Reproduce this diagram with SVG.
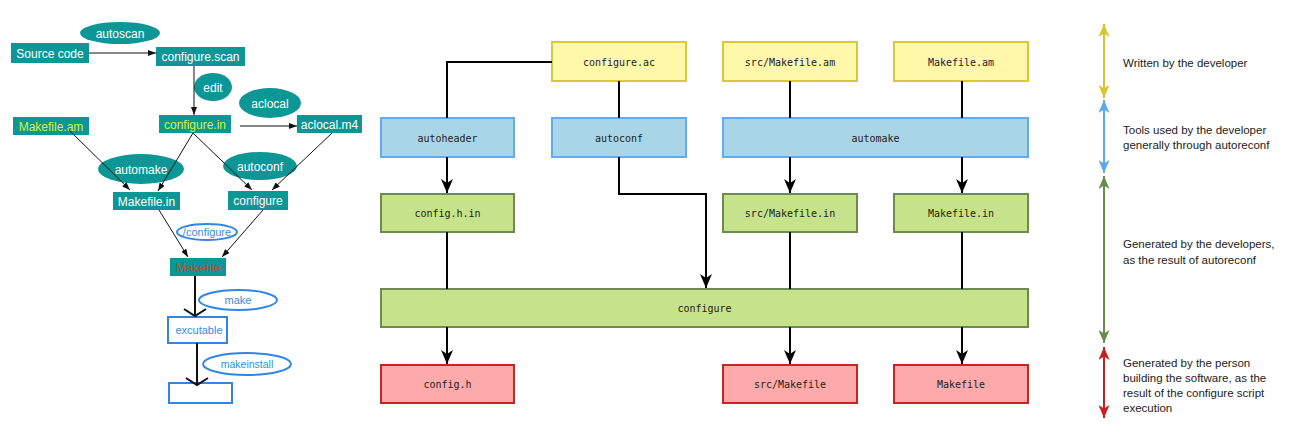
<svg xmlns="http://www.w3.org/2000/svg" width="1293" height="429" viewBox="0 0 1293 429">
<style>
.tb{fill:#0d9696;stroke:none}
.te{fill:#0d9696;stroke:none}
.tw{font-family:"Liberation Sans",Arial,sans-serif;font-size:12px;fill:#ffffff;text-anchor:middle}
.ty{font-family:"Liberation Sans",Arial,sans-serif;font-size:12px;fill:#d4f53c;text-anchor:middle}
.tr{font-family:"Liberation Sans",Arial,sans-serif;font-size:12px;fill:#b5532c;text-anchor:middle}
.bo{fill:#ffffff;stroke:#2f86e6;stroke-width:2}
.tbl{font-family:"Liberation Sans",Arial,sans-serif;font-size:11px;fill:#3a8ae0;text-anchor:middle}
.thin{stroke:#111;stroke-width:1;fill:none}
.thick{stroke:#111;stroke-width:2;fill:none}
.c{stroke:#000;stroke-width:2;fill:none}
.y{fill:#fff8a8;stroke:#d8c93c;stroke-width:2}
.b{fill:#a9d6e6;stroke:#62aaf2;stroke-width:2}
.g{fill:#c6e28a;stroke:#6d8b4f;stroke-width:2}
.r{fill:#ffaaaa;stroke:#cc2222;stroke-width:2}
.m{font-family:"DejaVu Sans Mono",monospace;font-size:10px;fill:#222;text-anchor:middle}
.l{font-family:"Liberation Sans",Arial,sans-serif;font-size:11.5px;fill:#222}
</style>
<defs>
<marker id="aS" markerUnits="userSpaceOnUse" viewBox="0 0 8 6" refX="8" refY="3" markerWidth="8" markerHeight="6" orient="auto"><path d="M0,0 L8,3 L0,6 z" fill="#111"/></marker>
<marker id="aM" markerUnits="userSpaceOnUse" viewBox="0 0 14 12" refX="14" refY="6" markerWidth="14" markerHeight="12" orient="auto"><path d="M0,0 L14,6 L0,12 L4,6 z" fill="#000"/></marker>
<marker id="aV" markerUnits="userSpaceOnUse" viewBox="0 0 10 26" refX="8" refY="13" markerWidth="10" markerHeight="26" orient="auto"><path d="M1,2 L8,13 L1,24" fill="none" stroke="#111" stroke-width="2"/></marker>
<marker id="lY" markerUnits="userSpaceOnUse" viewBox="0 0 13 11" refX="13" refY="5.5" markerWidth="13" markerHeight="11" orient="auto-start-reverse"><path d="M0,0 L13,5.5 L0,11 L3.5,5.5 z" fill="#d6c62e"/></marker>
<marker id="lB" markerUnits="userSpaceOnUse" viewBox="0 0 13 11" refX="13" refY="5.5" markerWidth="13" markerHeight="11" orient="auto-start-reverse"><path d="M0,0 L13,5.5 L0,11 L3.5,5.5 z" fill="#5aa8f2"/></marker>
<marker id="lG" markerUnits="userSpaceOnUse" viewBox="0 0 13 11" refX="13" refY="5.5" markerWidth="13" markerHeight="11" orient="auto-start-reverse"><path d="M0,0 L13,5.5 L0,11 L3.5,5.5 z" fill="#6a8a4e"/></marker>
<marker id="lR" markerUnits="userSpaceOnUse" viewBox="0 0 13 11" refX="13" refY="5.5" markerWidth="13" markerHeight="11" orient="auto-start-reverse"><path d="M0,0 L13,5.5 L0,11 L3.5,5.5 z" fill="#c82020"/></marker>
</defs>
<rect width="1293" height="429" fill="#ffffff"/>

<!-- Left diagram nodes -->
<g id="l-autoscan"><ellipse class="te" cx="120" cy="33" rx="40" ry="11"/><text class="tw" x="120" y="37.5">autoscan</text></g>
<g id="l-source"><rect class="tb" x="11" y="43" width="78" height="20"/><text class="tw" x="50" y="57.5">Source code</text></g>
<g id="l-confscan"><rect class="tb" x="156" y="47" width="89" height="19"/><text class="tw" x="200.5" y="61">configure.scan</text></g>
<g id="l-edit"><ellipse class="te" cx="213" cy="87" rx="19" ry="14"/><text class="tw" x="213" y="91.5">edit</text></g>
<g id="l-aclocal"><ellipse class="te" cx="270" cy="103" rx="31" ry="15"/><text class="tw" x="270" y="107.5">aclocal</text></g>
<g id="l-confin"><rect class="tb" x="159" y="115" width="72" height="18"/><text class="ty" x="195" y="128.5">configure.in</text></g>
<g id="l-aclocalm4"><rect class="tb" x="297" y="115" width="65" height="18"/><text class="tw" x="329.5" y="128.5">aclocal.m4</text></g>
<g id="l-makeam"><rect class="tb" x="13" y="117" width="76" height="18"/><text class="ty" x="51" y="130.5">Makefile.am</text></g>
<g id="l-automake"><ellipse class="te" cx="141" cy="169" rx="43" ry="15"/><text class="tw" x="141" y="173.5">automake</text></g>
<g id="l-autoconf"><ellipse class="te" cx="260" cy="166" rx="37" ry="14"/><text class="tw" x="260" y="170.5">autoconf</text></g>
<g id="l-makein"><rect class="tb" x="113" y="192" width="67" height="18"/><text class="tw" x="146.5" y="205.5">Makefile.in</text></g>
<g id="l-configure"><rect class="tb" x="228" y="191" width="60" height="19"/><text class="tw" x="258" y="205">configure</text></g>
<g id="l-dotconf"><ellipse class="bo" cx="207" cy="232" rx="30" ry="8"/><text class="tbl" x="207" y="236">/configure</text></g>
<g id="l-makefile"><rect class="tb" x="170" y="258" width="56" height="18"/><text class="tr" x="198" y="271.5">Makefile</text></g>
<g id="l-make"><ellipse class="bo" cx="238" cy="300" rx="39" ry="10"/><text class="tbl" x="238" y="304">make</text></g>
<g id="l-exec"><rect class="bo" x="168" y="317" width="59" height="26"/><text class="tbl" x="199" y="334">excutable</text></g>
<g id="l-makeinstall"><ellipse class="bo" cx="247" cy="364" rx="44" ry="11"/><text class="tbl" x="247" y="368" style="font-size:10.5px">makeinstall</text></g>
<g id="l-install"><rect class="bo" x="169" y="383" width="63" height="20"/></g>

<!-- Left diagram connectors -->
<g id="l-connectors">
<line class="thin" x1="89" y1="53" x2="156" y2="53" marker-end="url(#aS)"/>
<line class="thin" x1="194" y1="66" x2="194" y2="115" marker-end="url(#aS)"/>
<line class="thin" x1="240" y1="126" x2="297" y2="126" marker-end="url(#aS)"/>
<line class="thin" x1="69" y1="130" x2="130" y2="190" marker-end="url(#aS)"/>
<line class="thin" x1="193" y1="133" x2="158" y2="191" marker-end="url(#aS)"/>
<line class="thin" x1="193" y1="133" x2="252" y2="190" marker-end="url(#aS)"/>
<line class="thin" x1="332" y1="133" x2="272" y2="190" marker-end="url(#aS)"/>
<line class="thin" x1="159" y1="210" x2="188" y2="257" marker-end="url(#aS)"/>
<line class="thin" x1="263" y1="210" x2="222" y2="257" marker-end="url(#aS)"/>
<line class="thick" x1="195" y1="276" x2="195" y2="316" marker-end="url(#aV)"/>
<line class="thick" x1="197" y1="343" x2="197" y2="385" marker-end="url(#aV)"/>
</g>

<!-- Middle diagram nodes -->
<g id="configure-ac"><rect class="y" x="552" y="42" width="134" height="39"/><text class="m" x="619" y="65.5">configure.ac</text></g>
<g id="src-makefile-am"><rect class="y" x="723" y="42" width="134" height="39"/><text class="m" x="790" y="65.5">src/Makefile.am</text></g>
<g id="makefile-am"><rect class="y" x="894" y="42" width="134" height="39"/><text class="m" x="961" y="65.5">Makefile.am</text></g>
<g id="autoheader"><rect class="b" x="381" y="118" width="133" height="39"/><text class="m" x="447.5" y="141.5">autoheader</text></g>
<g id="autoconf"><rect class="b" x="552" y="118" width="134" height="39"/><text class="m" x="619" y="141.5">autoconf</text></g>
<g id="automake"><rect class="b" x="723" y="118" width="305" height="39"/><text class="m" x="875.5" y="141.5">automake</text></g>
<g id="config-h-in"><rect class="g" x="381" y="194" width="133" height="38"/><text class="m" x="447.5" y="217">config.h.in</text></g>
<g id="src-makefile-in"><rect class="g" x="723" y="194" width="134" height="38"/><text class="m" x="790" y="217">src/Makefile.in</text></g>
<g id="makefile-in"><rect class="g" x="894" y="194" width="134" height="38"/><text class="m" x="961" y="217">Makefile.in</text></g>
<g id="configure"><rect class="g" x="381" y="289" width="647" height="38"/><text class="m" x="704.5" y="312">configure</text></g>
<g id="config-h"><rect class="r" x="381" y="365" width="133" height="38"/><text class="m" x="447.5" y="388">config.h</text></g>
<g id="src-makefile"><rect class="r" x="723" y="365" width="134" height="38"/><text class="m" x="790" y="388">src/Makefile</text></g>
<g id="makefile"><rect class="r" x="894" y="365" width="134" height="38"/><text class="m" x="961" y="388">Makefile</text></g>

<!-- Middle connectors -->
<g id="connectors">
<polyline class="c" points="552,62 447,62 447,118"/>
<line class="c" x1="619" y1="81" x2="619" y2="118"/>
<line class="c" x1="790" y1="81" x2="790" y2="118"/>
<line class="c" x1="962" y1="81" x2="962" y2="118"/>
<line class="c" x1="447" y1="157" x2="447" y2="193" marker-end="url(#aM)"/>
<polyline class="c" points="619,157 619,194 706,194 706,288" marker-end="url(#aM)"/>
<line class="c" x1="790" y1="157" x2="790" y2="193" marker-end="url(#aM)"/>
<line class="c" x1="962" y1="157" x2="962" y2="193" marker-end="url(#aM)"/>
<line class="c" x1="447" y1="232" x2="447" y2="289"/>
<line class="c" x1="790" y1="232" x2="790" y2="289"/>
<line class="c" x1="962" y1="232" x2="962" y2="289"/>
<line class="c" x1="447" y1="327" x2="447" y2="364" marker-end="url(#aM)"/>
<line class="c" x1="790" y1="327" x2="790" y2="364" marker-end="url(#aM)"/>
<line class="c" x1="962" y1="327" x2="962" y2="364" marker-end="url(#aM)"/>
</g>

<!-- Legend -->
<g id="legend-arrows">
<line x1="1104" y1="24" x2="1104" y2="98" stroke="#d6c62e" stroke-width="2" marker-start="url(#lY)" marker-end="url(#lY)"/>
<line x1="1104" y1="100" x2="1104" y2="173" stroke="#5aa8f2" stroke-width="2" marker-start="url(#lB)" marker-end="url(#lB)"/>
<line x1="1104" y1="176" x2="1104" y2="343" stroke="#6a8a4e" stroke-width="2" marker-start="url(#lG)" marker-end="url(#lG)"/>
<line x1="1104" y1="347" x2="1104" y2="418" stroke="#c82020" stroke-width="2" marker-start="url(#lR)" marker-end="url(#lR)"/>
</g>
<g id="legend-written"><text class="l" x="1123" y="67">Written by the developer</text></g>
<g id="legend-tools"><text class="l" x="1123" y="134">Tools used by the developer</text><text class="l" x="1123" y="149">generally through autoreconf</text></g>
<g id="legend-generated-dev"><text class="l" x="1123" y="248">Generated by the developers,</text><text class="l" x="1123" y="264">as the result of autoreconf</text></g>
<g id="legend-generated-user"><text class="l" x="1123" y="367">Generated by the person</text><text class="l" x="1123" y="382">building the software, as the</text><text class="l" x="1123" y="397">result of the configure script</text><text class="l" x="1123" y="412">execution</text></g>
</svg>
